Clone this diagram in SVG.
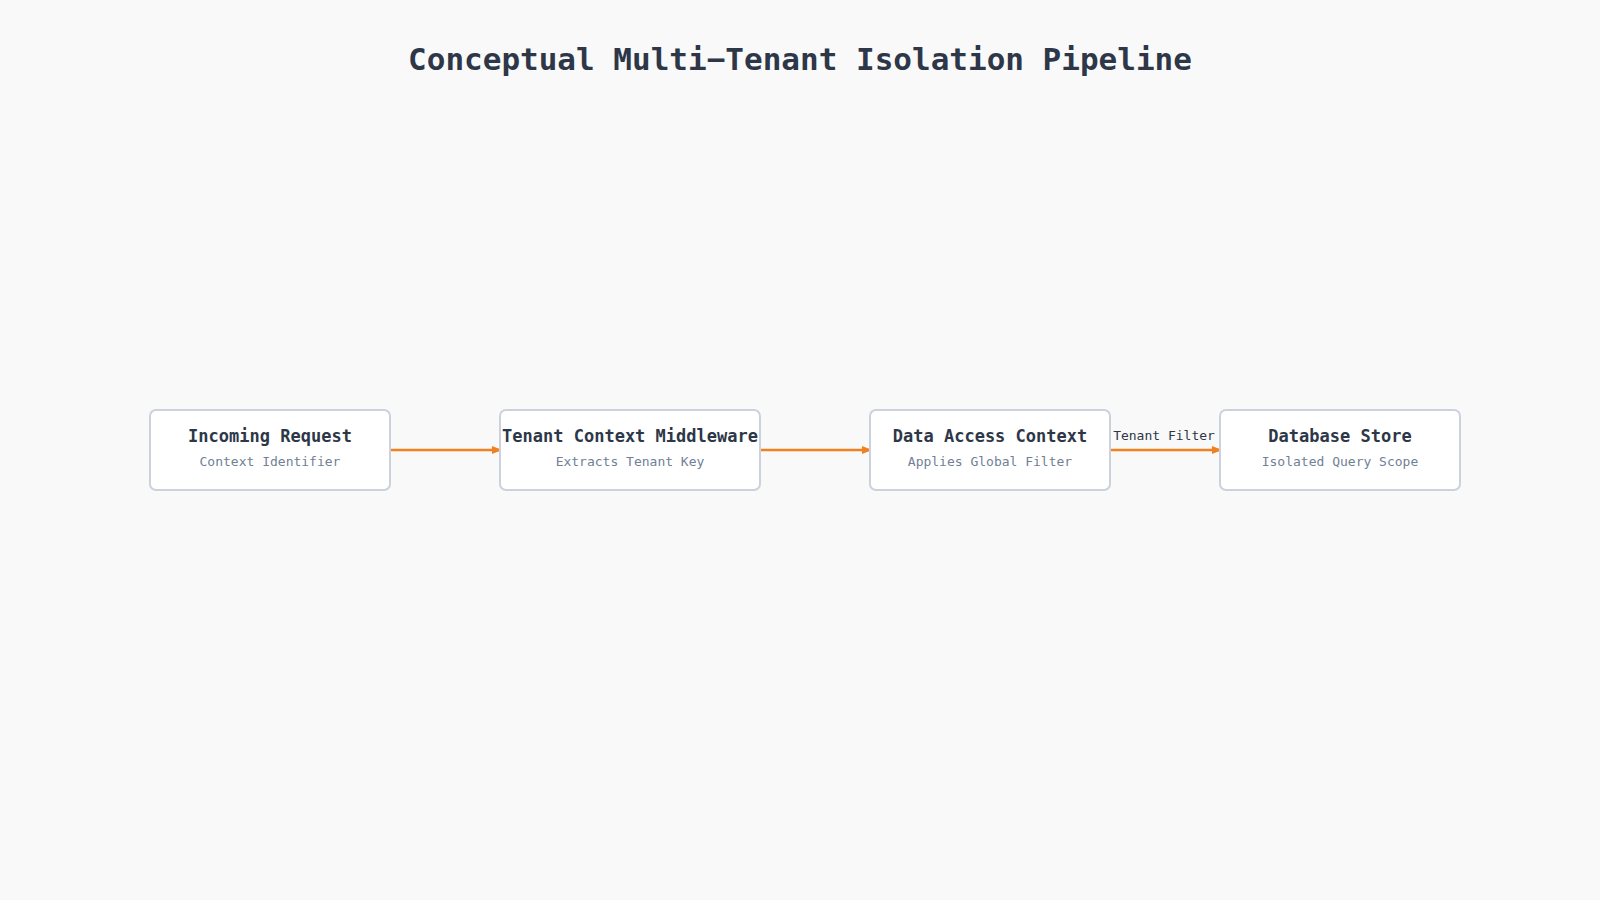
<svg xmlns="http://www.w3.org/2000/svg" width="1600" height="900" viewBox="0 0 1600 900">
<style>
.box{fill:#fff;stroke:#cbd2dc;stroke-width:2}
.t{font-family:"DejaVu Sans Mono",monospace;font-weight:bold;font-size:17px;fill:#2d3748;text-anchor:middle}
.s{font-family:"DejaVu Sans Mono",monospace;font-size:13px;fill:#718096;text-anchor:middle}
.e{stroke:#f08020;stroke-width:2.5;fill:none;marker-end:url(#a)}
.l{font-family:"DejaVu Sans Mono",monospace;font-size:13px;fill:#2d3748;text-anchor:middle}
</style>
<defs><marker id="a" markerWidth="10" markerHeight="8" refX="9" refY="4" orient="auto" markerUnits="userSpaceOnUse"><path d="M0,0L10,4L0,8z" fill="#f08020"/></marker></defs>
<rect width="1600" height="900" fill="#f9f9f9"/>
<text x="800" y="70" font-family="DejaVu Sans Mono,monospace" font-weight="bold" font-size="31" fill="#2d3748" text-anchor="middle">Conceptual Multi−Tenant Isolation Pipeline</text>
<g id="edges">
<path class="e" d="M390,450H501"/>
<path class="e" d="M760,450H871"/>
<path class="e" d="M1110,450H1221"/>
<text class="l" x="1164" y="440">Tenant Filter</text>
</g>
<g id="n1"><rect class="box" x="150" y="410" width="240" height="80" rx="6"/><text class="t" x="270" y="442">Incoming Request</text><text class="s" x="270" y="466">Context Identifier</text></g>
<g id="n2"><rect class="box" x="500" y="410" width="260" height="80" rx="6"/><text class="t" x="630" y="442">Tenant Context Middleware</text><text class="s" x="630" y="466">Extracts Tenant Key</text></g>
<g id="n3"><rect class="box" x="870" y="410" width="240" height="80" rx="6"/><text class="t" x="990" y="442">Data Access Context</text><text class="s" x="990" y="466">Applies Global Filter</text></g>
<g id="n4"><rect class="box" x="1220" y="410" width="240" height="80" rx="6"/><text class="t" x="1340" y="442">Database Store</text><text class="s" x="1340" y="466">Isolated Query Scope</text></g>
</svg>
